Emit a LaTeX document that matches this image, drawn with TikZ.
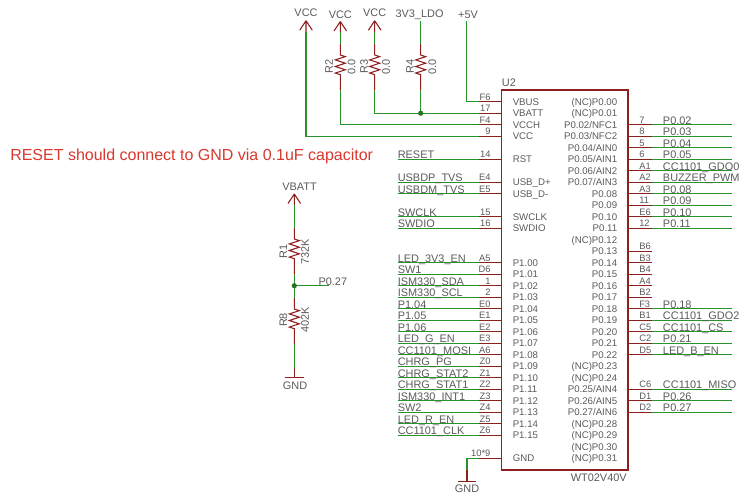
\documentclass[tikz,border=0pt]{standalone}
\usepackage{fontspec}
\setmainfont{Liberation Sans}
\usepackage{tikz}
\definecolor{wirered}{HTML}{8E1F1F}
\definecolor{wiregreen}{HTML}{2A922A}
\definecolor{labelgray}{HTML}{5A5A5A}
\definecolor{notered}{HTML}{D8382E}
\newcommand{\rowy}[1]{101.7+11.5*#1}
\tikzset{
  redwire/.style={draw=wirered,line width=0.8pt},
  greenwire/.style={draw=wiregreen,line width=0.8pt},
  txt/.style={inner sep=0pt,text=labelgray},
  netname/.style={txt,font=\fontsize{8.2}{9}\selectfont},
  pinname/.style={txt,font=\fontsize{7}{8}\selectfont},
  partpin/.style={txt,font=\fontsize{7.25}{8}\selectfont},
  resistor/.style={to path={-- ++(0,11) -- ++(5,1.64) -- ++(-10,3.28) -- ++(10,3.28)
    -- ++(-10,3.28) -- ++(10,3.28) -- ++(-10,3.28) -- ++(5,1.64) -- (\tikztotarget)}},
  supply/.style={to path={-- ++(-6.3,9.5) (\tikztostart) -- ++(6.3,9.5) (\tikztostart) -- (\tikztotarget)}}
}
\begin{document}
\begin{tikzpicture}[x=0.75pt,y=-0.75pt]
        \useasboundingbox (0,0) rectangle (741,494);
        % part body
        \node[draw=wirered,line width=1pt,inner sep=0pt,minimum width=94.7pt,minimum height=285pt] (body) at (564.85,280) {};
        \node[netname,anchor=base west] (u2) at (501.7,86.5) {U2};
        \node[netname,anchor=base east] (wt02) at (627,481.5) {WT02V40V};
        % pin names inside the part
        \foreach \txt/\k in {VBUS/0,VBATT/1,VCCH/2,VCC/3,RST/5,USB\_D+/7,USB\_D-/8,SWCLK/10,SWDIO/11,
          P1.00/14,P1.01/15,P1.02/16,P1.03/17,P1.04/18,P1.05/19,P1.06/20,P1.07/21,P1.08/22,P1.09/23,
          P1.10/24,P1.11/25,P1.12/26,P1.13/27,P1.14/28,P1.15/29,GND/31}
          \node[partpin,anchor=base west] (in-l-\k) at (512.5,{\rowy{\k}+3.5}) {\txt};
        \foreach \txt [count=\k from 0] in {{(NC)P0.00},{(NC)P0.01},{P0.02/NFC1},{P0.03/NFC2},{P0.04/AIN0},
          {P0.05/AIN1},{P0.06/AIN2},{P0.07/AIN3},{P0.08},{P0.09},{P0.10},{P0.11},{(NC)P0.12},{P0.13},{P0.14},
          {P0.15},{P0.16},{P0.17},{P0.18},{P0.19},{P0.20},{P0.21},{P0.22},{(NC)P0.23},{(NC)P0.24},{P0.25/AIN4},
          {P0.26/AIN5},{P0.27/AIN6},{(NC)P0.28},{(NC)P0.29},{(NC)P0.30},{(NC)P0.31}}
          \node[partpin,anchor=base east] (in-r-\k) at (617.5,{\rowy{\k}+3.5}) {\txt};
        % left pins with a net
        \foreach \k/\pin/\net in {5/14/RESET,7/E4/USBDP\_TVS,8/E5/USBDM\_TVS,10/15/SWCLK,11/16/SWDIO,
          14/A5/LED\_3V3\_EN,15/D6/SW1,16/1/ISM330\_SDA,17/2/ISM330\_SCL,18/E0/P1.04,19/E1/P1.05,20/E2/P1.06,
          21/E3/LED\_G\_EN,22/A6/CC1101\_MOSI,23/Z0/CHRG\_PG,24/Z1/CHRG\_STAT2,25/Z2/CHRG\_STAT1,
          26/Z3/ISM330\_INT1,27/Z4/SW2,28/Z5/LED\_R\_EN,29/Z6/CC1101\_CLK}
        {
          \coordinate (l-net-\k) at (397.5,{\rowy{\k}});
          \coordinate (l-pin-\k) at (479,{\rowy{\k}});
          \coordinate (l-end-\k) at (501.7,{\rowy{\k}});
          \draw[greenwire] (l-net-\k) -- (l-pin-\k);
          \draw[redwire] (l-pin-\k) -- (l-end-\k);
          \node[pinname,anchor=base east] (l-no-\k) at (490.7,{\rowy{\k}-1.5}) {\pin};
          \node[netname,anchor=base west] (l-name-\k) at (397.5,{\rowy{\k}-0.6}) {\net};
        }
        % left pins going up to the supplies
        \foreach \k/\pin in {0/F6,1/17,2/F4,3/9,31/10*9}
        {
          \coordinate (l-pin-\k) at (479,{\rowy{\k}});
          \coordinate (l-end-\k) at (501.7,{\rowy{\k}});
          \draw[redwire] (l-pin-\k) -- (l-end-\k);
          \node[pinname,anchor=base east] (l-no-\k) at (490.7,{\rowy{\k}-1.5}) {\pin};
        }
        % right pins with a net
        \foreach \k/\pin/\net in {2/7/P0.02,3/8/P0.03,4/5/P0.04,5/6/P0.05,6/A1/CC1101\_GDO0,7/A2/BUZZER\_PWM,
          8/A3/P0.08,9/11/P0.09,10/E6/P0.10,11/12/P0.11,18/F3/P0.18,19/B1/CC1101\_GDO2,20/C5/CC1101\_CS,
          21/C2/P0.21,22/D5/LED\_B\_EN,25/C6/CC1101\_MISO,26/D1/P0.26,27/D2/P0.27}
        {
          \coordinate (r-end-\k) at (628,{\rowy{\k}});
          \coordinate (r-pin-\k) at (651.7,{\rowy{\k}});
          \coordinate (r-net-\k) at (731.7,{\rowy{\k}});
          \draw[redwire] (r-end-\k) -- (r-pin-\k);
          \draw[greenwire] (r-pin-\k) -- (r-net-\k);
          \node[pinname,anchor=base west] (r-no-\k) at (639,{\rowy{\k}-1.5}) {\pin};
          \node[netname,anchor=base west] (r-name-\k) at (662.7,{\rowy{\k}-0.3}) {\net};
        }
        % right pins left open
        \foreach \k/\pin in {13/B6,14/B3,15/B4,16/A4,17/B2}
        {
          \coordinate (r-end-\k) at (628,{\rowy{\k}});
          \coordinate (r-pin-\k) at (651.7,{\rowy{\k}});
          \draw[redwire] (r-end-\k) -- (r-pin-\k);
          \node[pinname,anchor=base west] (r-no-\k) at (639,{\rowy{\k}-1.5}) {\pin};
        }
        % supplies at the top
        \node[netname] (vcc-a) at (306,13) {VCC};
        \node[netname] (vcc-b) at (340.3,14.5) {VCC};
        \node[netname] (vcc-c) at (374.7,13) {VCC};
        \node[netname] (ldo) at (419.5,14.5) {3V3\_LDO};
        \node[netname] (five) at (468,14.5) {+5V};
        \coordinate (vcc-a-tip) at (306,20.7);
        \coordinate (vcc-a-foot) at (306,32);
        \coordinate (vcc-b-tip) at (340.3,21.5);
        \coordinate (vcc-b-foot) at (340.3,32);
        \coordinate (vcc-c-tip) at (374.7,20.7);
        \coordinate (vcc-c-foot) at (374.7,32);
        \coordinate (r2-top) at (340.3,44);
        \coordinate (r2-bot) at (340.3,90);
        \coordinate (r3-top) at (374.7,44);
        \coordinate (r3-bot) at (374.7,90);
        \coordinate (r4-top) at (420.7,44);
        \coordinate (r4-bot) at (420.7,90);
        \coordinate (ldo-top) at (420.7,20.5);
        \coordinate (five-top) at (466.7,20.5);
        \coordinate (j-a) at (306,\rowy{3});
        \coordinate (j-b) at (340.3,\rowy{2});
        \coordinate (j-c) at (374.7,\rowy{1});
        \coordinate (j-d) at (420.7,\rowy{1});
        \coordinate (j-e) at (466.7,\rowy{0});
        \draw[greenwire] (vcc-a-foot) -- (j-a) -- (l-pin-3);
        \draw[greenwire] (vcc-b-foot) -- (r2-top);
        \draw[greenwire] (r2-bot) -- (j-b) -- (l-pin-2);
        \draw[greenwire] (vcc-c-foot) -- (r3-top);
        \draw[greenwire] (r3-bot) -- (j-c) -- (l-pin-1);
        \draw[greenwire] (ldo-top) -- (r4-top);
        \draw[greenwire] (r4-bot) -- (j-d);
        \draw[greenwire] (five-top) -- (j-e) -- (l-pin-0);
        \draw[redwire,supply] (vcc-a-tip) to (vcc-a-foot);
        \draw[redwire,supply] (vcc-b-tip) to (vcc-b-foot);
        \draw[redwire,supply] (vcc-c-tip) to (vcc-c-foot);
        \draw[redwire,resistor] (r2-top) to (r2-bot);
        \draw[redwire,resistor] (r3-top) to (r3-bot);
        \draw[redwire,resistor] (r4-top) to (r4-bot);
        \fill[wiregreen!80!black] (j-d) circle (2.6);
        \node[netname,rotate=90] (r2-name) at (329,66.7) {R2};
        \node[netname,rotate=90] (r2-val) at (351.7,66.7) {0.0};
        \node[netname,rotate=90] (r3-name) at (364,66.7) {R3};
        \node[netname,rotate=90] (r3-val) at (386,66.7) {0.0};
        \node[netname,rotate=90] (r4-name) at (410,66.7) {R4};
        \node[netname,rotate=90] (r4-val) at (432.3,66.7) {0.0};
        % note
        \node[txt,text=notered,anchor=base west,font=\fontsize{12}{14}\selectfont] (note) at (10,160)
          {RESET should connect to GND via 0.1uF capacitor};
        % ground of the part
        \coordinate (gnd-j) at (467,\rowy{31});
        \coordinate (gnd-m) at (467,470);
        \coordinate (gnd-foot) at (467,481.7);
        \coordinate (gnd-l) at (457.7,481.7);
        \coordinate (gnd-r) at (476,481.7);
        \draw[greenwire] (l-pin-31) -- (gnd-j) -- (gnd-m);
        \draw[redwire] (gnd-m) -- (gnd-foot);
        \draw[redwire] (gnd-l) -- (gnd-r);
        \node[netname] (gnd-name) at (467,489) {GND};
        % battery divider
        \node[netname] (vbatt) at (299.5,186.7) {VBATT};
        \coordinate (bat-tip) at (294.3,194);
        \coordinate (bat-foot) at (294.3,205);
        \coordinate (r1-top) at (294.3,228);
        \coordinate (r1-bot) at (294.3,274);
        \coordinate (r8-top) at (294.3,298);
        \coordinate (r8-bot) at (294.3,344);
        \coordinate (mid) at (294.3,285.7);
        \coordinate (mid-end) at (329,285.7);
        \coordinate (low) at (294.3,368);
        \coordinate (low-foot) at (294.3,377.3);
        \coordinate (low-l) at (285,377.3);
        \coordinate (low-r) at (303.5,377.3);
        \draw[greenwire] (bat-foot) -- (r1-top);
        \draw[greenwire] (r1-bot) -- (r8-top);
        \draw[greenwire] (mid) -- (mid-end);
        \draw[greenwire] (r8-bot) -- (low);
        \draw[redwire,supply] (bat-tip) to (bat-foot);
        \draw[redwire,resistor] (r1-top) to (r1-bot);
        \draw[redwire,resistor] (r8-top) to (r8-bot);
        \draw[redwire] (low) -- (low-foot);
        \draw[redwire] (low-l) -- (low-r);
        \fill[wiregreen!80!black] (mid) circle (2.6);
        \node[netname,anchor=west] (p27) at (318.3,282) {P0.27};
        \node[netname] (gnd-low) at (295,386) {GND};
        \node[netname,rotate=90] (r1-name) at (283.3,251.7) {R1};
        \node[netname,rotate=90] (r1-val) at (305,251.7) {732K};
        \node[netname,rotate=90] (r8-name) at (283.3,320) {R8};
        \node[netname,rotate=90] (r8-val) at (305,320) {402K};
\end{tikzpicture}
\end{document}
